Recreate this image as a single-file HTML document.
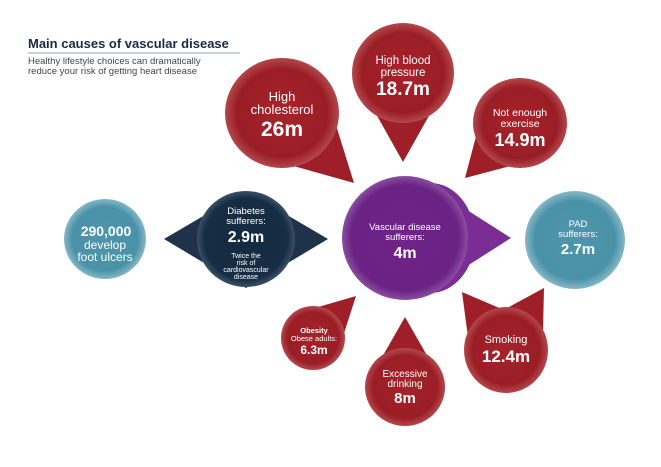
<!DOCTYPE html>
<html><head><meta charset="utf-8"><style>
html,body{margin:0;padding:0;background:#fff;}
svg{display:block;font-family:"Liberation Sans",sans-serif;}
</style></head><body>
<svg width="661" height="467" viewBox="0 0 661 467" xmlns="http://www.w3.org/2000/svg">
<defs>
<radialGradient id="r" cx="50%" cy="50%" r="50%"><stop offset="0" stop-color="#a8232b"/><stop offset="0.8" stop-color="#9a1d25"/><stop offset="1" stop-color="#b3484c"/></radialGradient>
<radialGradient id="p" cx="50%" cy="50%" r="50%"><stop offset="0" stop-color="#6f2487"/><stop offset="0.85" stop-color="#6a2283"/><stop offset="1" stop-color="#8a4ea0"/></radialGradient>
<radialGradient id="n" cx="50%" cy="50%" r="50%"><stop offset="0" stop-color="#132a40"/><stop offset="0.85" stop-color="#162d44"/><stop offset="1" stop-color="#3b5066"/></radialGradient>
<radialGradient id="t" cx="50%" cy="50%" r="50%"><stop offset="0" stop-color="#4d95aa"/><stop offset="0.8" stop-color="#4a92a8"/><stop offset="1" stop-color="#86b7c6"/></radialGradient>
</defs>

<text x="28" y="48" font-size="13" font-weight="bold" fill="#1b2a42">Main causes of vascular disease</text>
<line x1="28" y1="53" x2="240" y2="53" stroke="#9aa3ad" stroke-width="1"/>
<text x="28" y="64" font-size="9.5" fill="#444">Healthy lifestyle choices can dramatically</text>
<text x="28" y="74" font-size="9.5" fill="#444">reduce your risk of getting heart disease</text>

<!-- tails -->
<g fill="#9e1f27">
<polygon points="244,152 354,183 320,74"/>
<polygon points="353,73 403,162 453,73"/>
<polygon points="552,155 465,178 488,91"/>
<polygon points="335,361 356,296 291,315"/>
<polygon points="365,387 405,317 445,387"/>
<polygon points="539,325 462,292 473,375"/>
<polygon points="542,372 544,288 470,328"/>
</g>
<polygon points="420,180 511,238 420,296" fill="#7a2e94"/>
<ellipse cx="430" cy="238" rx="45" ry="55" fill="#7a2e94"/>
<polygon points="164,239 246,191 328,239 246,288" fill="#1e3349"/>

<!-- circles -->
<ellipse cx="282" cy="113" rx="57" ry="55" fill="url(#r)"/>
<ellipse cx="403" cy="73" rx="51" ry="50" fill="url(#r)"/>
<ellipse cx="520" cy="123" rx="47" ry="45" fill="url(#r)"/>
<ellipse cx="405" cy="238" rx="63" ry="62" fill="url(#p)"/>
<ellipse cx="575" cy="240" rx="50" ry="49" fill="url(#t)"/>
<ellipse cx="105" cy="239" rx="41" ry="40" fill="url(#t)"/>
<ellipse cx="246" cy="239" rx="49" ry="48" fill="url(#n)"/>
<ellipse cx="313" cy="338" rx="32" ry="32" fill="url(#r)"/>
<ellipse cx="405" cy="387" rx="40" ry="39" fill="url(#r)"/>
<ellipse cx="506" cy="350" rx="42" ry="43" fill="url(#r)"/>

<g fill="#fff" text-anchor="middle">
<text x="282" y="101" font-size="13">High</text>
<text x="282" y="114" font-size="13">cholesterol</text>
<text x="282" y="136" font-size="21" font-weight="bold">26m</text>

<text x="403" y="64" font-size="11.5">High blood</text>
<text x="403" y="76" font-size="11.5">pressure</text>
<text x="403" y="95" font-size="19" font-weight="bold">18.7m</text>

<text x="520" y="116" font-size="10.5">Not enough</text>
<text x="520" y="127" font-size="10.5">exercise</text>
<text x="520" y="146" font-size="18" font-weight="bold">14.9m</text>

<text x="405" y="230" font-size="9.5">Vascular disease</text>
<text x="405" y="240" font-size="9.5">sufferers:</text>
<text x="405" y="258" font-size="16" font-weight="bold">4m</text>

<text x="578" y="227" font-size="9.5">PAD</text>
<text x="578" y="237" font-size="9.5">sufferers:</text>
<text x="578" y="254" font-size="15" font-weight="bold">2.7m</text>

<text x="106" y="236" font-size="14" font-weight="bold">290,000</text>
<text x="105" y="249" font-size="12">develop</text>
<text x="105" y="261" font-size="12">foot ulcers</text>

<text x="246" y="214" font-size="9.5">Diabetes</text>
<text x="246" y="224" font-size="9.5">sufferers:</text>
<text x="246" y="242" font-size="16" font-weight="bold">2.9m</text>
<text x="246" y="258" font-size="7">Twice the</text>
<text x="246" y="265" font-size="7">risk of</text>
<text x="246" y="272" font-size="7">cardiovascular</text>
<text x="246" y="279" font-size="7">disease</text>

<text x="314" y="333" font-size="7.5" font-weight="bold">Obesity</text>
<text x="314" y="341" font-size="7.5">Obese adults:</text>
<text x="314" y="354" font-size="12" font-weight="bold">6.3m</text>

<text x="405" y="377" font-size="10">Excessive</text>
<text x="405" y="387" font-size="10">drinking</text>
<text x="405" y="403" font-size="15" font-weight="bold">8m</text>

<text x="506" y="343" font-size="11">Smoking</text>
<text x="506" y="362" font-size="17" font-weight="bold">12.4m</text>
</g>
</svg>
</body></html>
